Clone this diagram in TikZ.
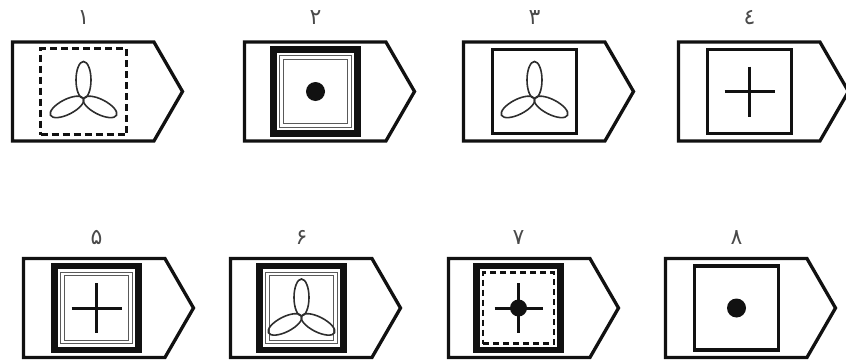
\documentclass[tikz,border=0pt]{standalone}
\usepackage{fontspec}
\newfontfamily\arabicfont[Script=Arabic]{DejaVu Sans}
\TeXXeTstate=1
\usepackage{tikz}
\usetikzlibrary{calc,positioning,shapes.symbols,shapes.geometric}
\definecolor{Ink}{HTML}{111111}
\definecolor{LabelGray}{HTML}{4A4A4A}
\definecolor{PetalGray}{HTML}{2E2E2E}
\tikzset{
  tag/.style={signal, signal to=east, signal pointer angle=120, draw=Ink, line width=3.3pt,
              minimum width=170pt, minimum height=99pt, inner sep=0pt, outer sep=0pt, anchor=west},
  frame/.style={draw=Ink, line width=3.6pt, minimum size=84pt, inner sep=0pt, outer sep=0pt},
  dashframe/.style={frame, line width=2.6pt, minimum size=86pt, dash pattern=on 7pt off 4pt},
  boldframe/.style={frame, line width=6.5pt, minimum size=84pt},
  dblframe/.style={draw=black!65, line width=1.1pt, double=white, double distance=2.6pt,
                   minimum size=68pt, inner sep=0pt},
  innerdash/.style={draw=Ink, line width=2.2pt, dash pattern=on 6pt off 4pt,
                    minimum size=71pt, inner sep=0pt},
  petal/.style={ellipse, draw=PetalGray, line width=1.6pt, minimum width=37pt,
                minimum height=15pt, inner sep=0pt, outer sep=0pt, anchor=west},
  dot/.style={circle, fill=Ink, minimum size=19pt, inner sep=0pt},
  crossline/.style={draw=Ink, line width=3pt},
  lbl/.style={font=\arabicfont\fontsize{22}{24}\selectfont, text=LabelGray, inner sep=0pt}
}

\begin{document}
\begin{tikzpicture}[x=1pt, y=-1pt]
\useasboundingbox (0,0) rectangle (846,364);
% upper row
\node[tag] (t1) at (12.5,91.5) {};
\node[tag] (t2) at (244.5,91.5) {};
\node[tag] (t3) at (463.5,91.5) {};
\node[tag] (t4) at (678.5,91.5) {};
% lower row
\node[tag] (t5) at (23.5,308) {};
\node[tag] (t6) at (230.5,308) {};
\node[tag] (t7) at (448.5,308) {};
\node[tag] (t8) at (665.5,308) {};

% 1: dashed frame, trefoil
\node[dashframe] (f1) at ($(t1.west)+(71,0)$) {};
\foreach \a in {90,207,333}
  \node[petal, rotate=\a] (p1-\a) at ($(f1)+(0,7)$) {};
% 2: bold frame, double frame, dot
\node[boldframe] (f2) at ($(t2.west)+(71,0)$) {};
\node[dblframe] (g2) at (f2) {};
\node[dot] (d2) at (f2) {};
% 3: frame, trefoil
\node[frame] (f3) at ($(t3.west)+(71,0)$) {};
\foreach \a in {90,207,333}
  \node[petal, rotate=\a] (p3-\a) at ($(f3)+(0,7)$) {};
% 4: frame, cross
\node[frame] (f4) at ($(t4.west)+(71,0)$) {};
\draw[crossline] (f4) ++(-25,0) -- ++(50,0) (f4) ++(0,-25) -- ++(0,50);
% 5: bold frame, double frame, cross
\node[boldframe] (f5) at ($(t5.west)+(73,0)$) {};
\node[dblframe] (g5) at (f5) {};
\draw[crossline] (f5) ++(-25,0) -- ++(50,0) (f5) ++(0,-25) -- ++(0,50);
% 6: bold frame, double frame, trefoil
\node[boldframe] (f6) at ($(t6.west)+(71,0)$) {};
\node[dblframe] (g6) at (f6) {};
\foreach \a in {90,207,333}
  \node[petal, rotate=\a] (p6-\a) at ($(f6)+(0,8)$) {};
% 7: bold frame, dashed frame, cross with dot
\node[boldframe] (f7) at ($(t7.west)+(70,0)$) {};
\node[innerdash] (g7) at (f7) {};
\draw[crossline] (f7) ++(-24,0) -- ++(48,0) (f7) ++(0,-25) -- ++(0,50);
\node[dot, minimum size=17pt] (d7) at (f7) {};
% 8: frame, dot
\node[frame] (f8) at ($(t8.west)+(71,0)$) {};
\node[dot] (d8) at (f8) {};

% numbers
\node[lbl] (n1) at ($(f1 |- t1.north)+(0,-24)$) {\beginR ۱\endR};
\node[lbl] (n2) at ($(f2 |- t2.north)+(0,-24)$) {\beginR ۲\endR};
\node[lbl] (n3) at ($(f3 |- t3.north)+(0,-24)$) {\beginR ۳\endR};
\node[lbl] (n4) at ($(f4 |- t4.north)+(0,-24)$) {\beginR ٤\endR};
\node[lbl] (n5) at ($(f5 |- t5.north)+(0,-21)$) {\beginR ۵\endR};
\node[lbl] (n6) at ($(f6 |- t6.north)+(0,-21)$) {\beginR ۶\endR};
\node[lbl] (n7) at ($(f7 |- t7.north)+(0,-21)$) {\beginR ۷\endR};
\node[lbl] (n8) at ($(f8 |- t8.north)+(0,-21)$) {\beginR ۸\endR};
\end{tikzpicture}
\end{document}
